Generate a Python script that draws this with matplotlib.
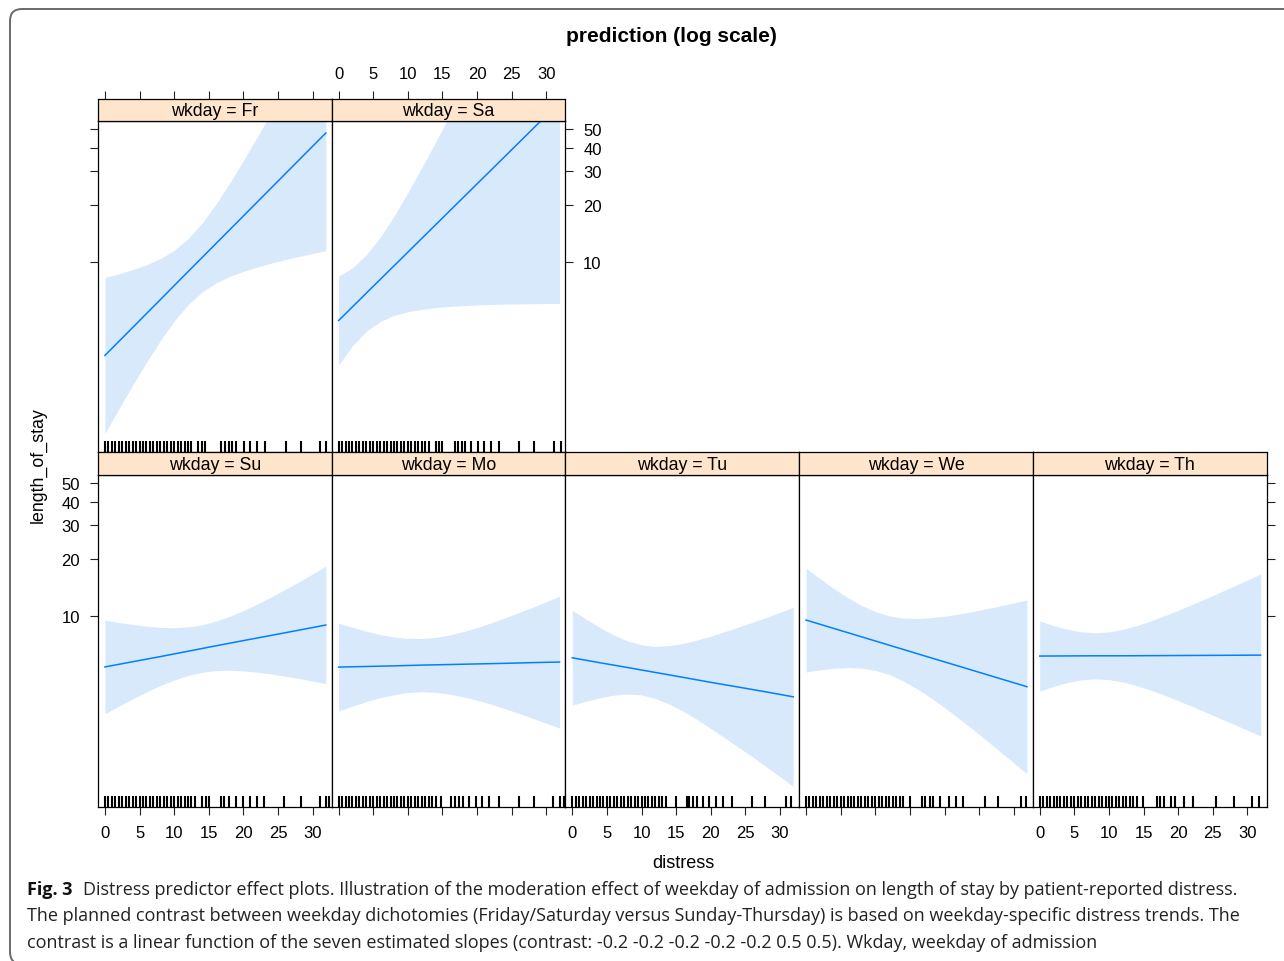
import matplotlib
matplotlib.use('Agg')
import matplotlib.pyplot as plt
from matplotlib.ticker import NullLocator
from matplotlib.patches import FancyBboxPatch
from matplotlib.transforms import IdentityTransform
from matplotlib import font_manager

plt.rcParams['font.family'] = ['Liberation Sans', 'DejaVu Sans']

# ---------------- data ----------------
# fitted line (log-linear) sample points
distress = [0, 4, 8, 12, 16, 20, 24, 28, 31.9]
# confidence band sample points
distress_band = [0, 2, 4, 6, 8, 10, 12, 14, 16, 18, 20, 22, 24, 26, 28, 30, 31.9]

fit_Fr = [3.20, 4.49, 6.30, 8.85, 12.41, 17.42, 24.45, 34.3, 47.7]
up_Fr = [8.24, 8.63, 9.08, 9.62, 10.37, 11.48, 13.20, 15.93, 20.0, 25.90, 34.1, 45.5,
         60.9, 81.9, 110.6, 149.5, 199.5]
lo_Fr = [1.24, 1.67, 2.23, 2.94, 3.83, 4.86, 5.93, 6.90, 7.70, 8.35, 8.89, 9.37, 9.82,
         10.23, 10.64, 11.05, 11.43]

fit_Sa = [4.89, 6.82, 9.50, 13.25, 18.46, 25.73, 35.86, 50.0, 69.1]
up_Sa = [8.39, 9.28, 10.85, 13.43, 17.38, 23.13, 31.3, 42.77, 58.7, 81.1, 112.1, 155.4,
         215.6, 299.8, 417.0, 579.8, 793.0]
lo_Sa = [2.85, 3.60, 4.29, 4.83, 5.20, 5.44, 5.60, 5.72, 5.80, 5.86, 5.91, 5.94, 5.97,
         5.98, 6.00, 6.01, 6.02]

fit_Su = [5.40, 5.75, 6.12, 6.53, 6.97, 7.43, 7.91, 8.43, 8.97]
up_Su = [9.51, 9.25, 9.03, 8.84, 8.71, 8.68, 8.77, 8.99, 9.40, 9.96, 10.69, 11.58, 12.6,
         13.81, 15.1, 16.66, 18.3]
lo_Su = [3.06, 3.36, 3.67, 3.99, 4.31, 4.61, 4.87, 5.06, 5.16, 5.19, 5.15, 5.07, 4.96,
         4.83, 4.70, 4.55, 4.41]

fit_Mo = [5.39, 5.43, 5.47, 5.52, 5.56, 5.60, 5.64, 5.69, 5.73]
up_Mo = [9.18, 8.72, 8.32, 7.99, 7.76, 7.63, 7.62, 7.72, 7.95, 8.28, 8.70, 9.20, 9.78,
         10.42, 11.1, 11.92, 12.7]
lo_Mo = [3.17, 3.36, 3.55, 3.72, 3.86, 3.96, 4.00, 3.97, 3.89, 3.76, 3.61, 3.44, 3.26,
         3.08, 2.90, 2.73, 2.58]

fit_Tu = [6.03, 5.68, 5.36, 5.05, 4.76, 4.48, 4.23, 3.99, 3.76]
up_Tu = [10.72, 9.62, 8.69, 7.94, 7.39, 7.05, 6.92, 6.99, 7.17, 7.48, 7.84, 8.27, 8.75,
         9.26, 9.84, 10.46, 11.10]
lo_Tu = [3.40, 3.57, 3.72, 3.84, 3.89, 3.85, 3.68, 3.44, 3.16, 2.86, 2.56, 2.29, 2.04,
         1.82, 1.61, 1.43, 1.27]

fit_We = [9.53, 8.61, 7.78, 7.03, 6.35, 5.74, 5.19, 4.69, 4.25]
up_We = [17.87, 15.73, 13.95, 12.51, 11.37, 10.55, 10.03, 9.76, 9.70, 9.80, 9.98, 10.23,
         10.55, 10.90, 11.30, 11.72, 12.15]
lo_We = [5.08, 5.21, 5.31, 5.36, 5.32, 5.18, 4.93, 4.57, 4.15, 3.72, 3.30, 2.91, 2.55,
         2.23, 1.94, 1.69, 1.48]

fit_Th = [6.16, 6.17, 6.18, 6.18, 6.19, 6.20, 6.21, 6.22, 6.23]
up_Th = [9.41, 8.91, 8.51, 8.26, 8.16, 8.25, 8.51, 8.90, 9.41, 10.04, 10.72, 11.51, 12.36,
         13.31, 14.35, 15.47, 16.64]
lo_Th = [4.03, 4.27, 4.47, 4.62, 4.67, 4.63, 4.50, 4.30, 4.08, 3.84, 3.59, 3.35, 3.12,
         2.90, 2.70, 2.51, 2.34]

rug_Fr = [0, 0.5, 1, 1.5, 2, 2.5, 3, 3.5, 4, 4.5, 5, 5.5, 6, 6.5, 7, 7.5, 8, 8.5, 9, 9.5,
          10, 10.5, 11, 11.5, 12, 12.5, 13.5, 14, 14.5, 16.8, 17.3, 17.9, 18.4, 19.0, 20.1,
          21.0, 22.0, 23.1, 26.1, 28.3, 31.1, 31.9]
rug_Sa = [0, 0.5, 1, 1.5, 2, 2.5, 3, 3.5, 4, 4.5, 5, 5.5, 6, 6.5, 7, 7.5, 8, 8.5, 9, 9.5,
          10, 10.5, 11, 11.5, 12, 12.5, 13, 14, 14.5, 15, 16.8, 17.2, 17.8, 18.3, 19.1, 20.1,
          21.0, 22.0, 23.1, 26.1, 28.2, 31.1, 32.1]
rug_Su = [0, 0.5, 1, 1.5, 2, 2.5, 3, 3.5, 4, 4.5, 5, 5.5, 6, 6.5, 7, 7.5, 8, 8.5, 9, 9.5,
          10, 10.5, 11, 11.5, 12, 12.5, 13, 14, 14.6, 15.1, 16.8, 17.2, 17.9, 18.9, 20.0,
          21.0, 22.0, 23.0, 25.9, 28.3, 31.0, 31.9, 32.4]
rug_Mo = [0, 0.5, 1, 1.5, 2, 2.5, 3, 3.5, 4, 4.5, 5, 5.5, 6, 6.5, 7, 7.5, 8, 8.5, 9, 9.5,
          10, 10.5, 11, 11.5, 12, 12.5, 13, 13.5, 14, 14.8, 16.3, 16.8, 17.4, 18.0, 18.9,
          19.9, 20.7, 21.7, 23.1, 26.1, 28.2, 30.9, 31.9, 32.5]
rug_Tu = [0, 0.5, 1, 1.5, 2, 2.5, 3, 3.5, 4, 4.5, 5, 5.5, 6, 6.5, 7, 7.5, 8, 8.5, 9, 9.5,
          10, 10.5, 11, 11.5, 12, 12.5, 13, 13.5, 15.0, 16.6, 16.9, 17.4, 18.0, 18.8, 19.8,
          20.7, 21.7, 23.0, 26.0, 27.8, 30.9, 31.6]
rug_We = [0, 0.5, 1, 1.5, 2, 2.5, 3, 3.5, 4, 4.5, 5, 5.5, 6, 6.5, 7, 7.5, 8, 8.5, 9, 9.5,
          10, 10.5, 11, 11.5, 12, 12.5, 13, 13.5, 14, 15.0, 16.7, 17.2, 17.9, 18.4, 19.4,
          20.6, 21.6, 22.7, 25.8, 27.7, 31.1, 31.8]
rug_Th = [0, 0.5, 1, 1.5, 2, 2.5, 3, 3.5, 4, 4.5, 5, 5.5, 6, 6.5, 7, 7.5, 8, 8.5, 9, 9.5,
          10, 10.5, 11, 11.5, 12, 12.5, 13, 13.5, 14, 14.9, 16.9, 17.4, 18.0, 18.9, 19.6,
          20.8, 22.2, 25.5, 28.1, 30.7, 31.7]

x_ticks = [0, 5, 10, 15, 20, 25, 30]
y_ticks = [10, 20, 30, 40, 50]
y_ticklabels = ['10', '20', '30', '40', '50']

title = 'prediction (log scale)'
xlabel = 'distress'
ylabel = 'length_of_stay'
caption_bold = 'Fig. 3'
caption_lines = [
    'Distress predictor effect plots. Illustration of the moderation effect of weekday of admission on length of stay by patient-reported distress.',
    'The planned contrast between weekday dichotomies (Friday/Saturday versus Sunday-Thursday) is based on weekday-specific distress trends. The',
    'contrast is a linear function of the seven estimated slopes (contrast: -0.2 -0.2 -0.2 -0.2 -0.2 0.5 0.5). Wkday, weekday of admission',
]

# ---------------- layout ----------------
W, H, DPI = 1284, 962, 100
fig = plt.figure(figsize=(W / DPI, H / DPI), dpi=DPI)
fig.patch.set_facecolor('white')

col_edges = [98, 331.7, 565.4, 799.1, 1032.8, 1266.5]
rows = {0: dict(strip=(100, 122), panel=(122, 453)),
        1: dict(strip=(453, 476), panel=(476, 808))}

LINE_COL = '#0080ff'
BAND_COL = '#d8e9fb'
STRIP_COL = '#ffe5cc'
XLIM = (-1.0, 32.75)
YLIM = (0.99, 55.2)
TICK_FS = 12
TP = dict(length=5.8, width=0.8, pad=7, labelsize=TICK_FS, color='#222222')


def add_axes_px(x0, y0, x1, y1):
    return fig.add_axes([x0 / W, 1 - y1 / H, (x1 - x0) / W, (y1 - y0) / H])


panels = [
    ('Fr', 0, 0, fit_Fr, up_Fr, lo_Fr, rug_Fr),
    ('Sa', 0, 1, fit_Sa, up_Sa, lo_Sa, rug_Sa),
    ('Su', 1, 0, fit_Su, up_Su, lo_Su, rug_Su),
    ('Mo', 1, 1, fit_Mo, up_Mo, lo_Mo, rug_Mo),
    ('Tu', 1, 2, fit_Tu, up_Tu, lo_Tu, rug_Tu),
    ('We', 1, 3, fit_We, up_We, lo_We, rug_We),
    ('Th', 1, 4, fit_Th, up_Th, lo_Th, rug_Th),
]

for name, r, c, fit, up, lo, rug in panels:
    x0, x1 = col_edges[c], col_edges[c + 1]
    pt, pb = rows[r]['panel']
    st, sb = rows[r]['strip']

    ax = add_axes_px(x0, pt, x1, pb)
    ax.set_yscale('log')
    ax.fill_between(distress_band, lo, up, color=BAND_COL, lw=0, zorder=1)
    ax.plot(distress, fit, color=LINE_COL, lw=1.1, zorder=3)
    ax.vlines(rug, 0, 0.033, transform=ax.get_xaxis_transform(), color='black',
              lw=1.5, zorder=2)
    ax.set_xlim(*XLIM)
    ax.set_ylim(*YLIM)
    ax.yaxis.set_minor_locator(NullLocator())
    ax.set_yticks(y_ticks)
    ax.set_yticklabels(y_ticklabels)
    ax.set_xticks(x_ticks)
    ax.set_xticklabels([str(v) for v in x_ticks])
    for sp in ax.spines.values():
        sp.set_linewidth(0.9)
        sp.set_color('black')
    ax.tick_params(which='both', left=False, right=False, top=False, bottom=False,
                   labelleft=False, labelright=False, labeltop=False, labelbottom=False)
    ax.tick_params(**TP)

    if name == 'Fr':
        ax.tick_params(left=True)
    if name == 'Sa':
        ax.tick_params(right=True, labelright=True)
    if name == 'Su':
        ax.tick_params(left=True, labelleft=True, bottom=True, labelbottom=True)
    if name in ('Mo', 'We'):
        ax.tick_params(bottom=True)
    if name == 'Tu':
        ax.tick_params(bottom=True, labelbottom=True)
    if name == 'Th':
        ax.tick_params(bottom=True, labelbottom=True, right=True)

    sax = add_axes_px(x0, st, x1, sb)
    sax.set_facecolor(STRIP_COL)
    sax.set_xlim(*XLIM)
    sax.set_ylim(0, 1)
    sax.set_yticks([])
    sax.set_xticks(x_ticks)
    sax.set_xticklabels([str(v) for v in x_ticks])
    for sp in sax.spines.values():
        sp.set_linewidth(0.9)
        sp.set_color('black')
    sax.tick_params(which='both', left=False, right=False, top=False, bottom=False,
                    labelleft=False, labelright=False, labeltop=False, labelbottom=False)
    sax.tick_params(**TP)
    if name == 'Fr':
        sax.tick_params(top=True)
    if name == 'Sa':
        sax.tick_params(top=True, labeltop=True)
    sax.text(0.5, 0.46, 'wkday = ' + name, transform=sax.transAxes, ha='center',
             va='center', fontsize=12.8, color='black')

# titles / labels
fig.text(671 / W, 1 - 36 / H, title, ha='center', va='center', fontsize=15,
         fontweight='bold')
fig.text(683 / W, 1 - 864 / H, xlabel, ha='center', va='center', fontsize=13)
fig.text(38 / W, 1 - 465 / H, ylabel, ha='center', va='center', fontsize=12.8,
         rotation=90)

# rounded frame
frame = FancyBboxPatch((10, -3), 1300, H - 10 + 3, boxstyle='round,pad=0,rounding_size=12',
                       transform=IdentityTransform(), fill=False, ec='#6a6a6a', lw=1.4)
fig.add_artist(frame)

# caption
names = {f.name for f in font_manager.fontManager.ttflist}
cap_family = 'Liberation Sans Narrow' if 'Liberation Sans Narrow' in names else 'Open Sans'

renderer = fig.canvas.get_renderer()
fs0 = 14.0
cap_y = [890, 916.5, 943]
tb = fig.text(27 / W, 1 - cap_y[0] / H, caption_bold, ha='left', va='center',
              fontsize=fs0, fontweight='bold', family=cap_family, color='#111111')
t1 = fig.text(0, 1 - cap_y[0] / H, caption_lines[0], ha='left', va='center',
              fontsize=fs0, family=cap_family, color='#222222')
bw = tb.get_window_extent(renderer).width
gap = 0.6 * fs0 * DPI / 72
tw = t1.get_window_extent(renderer).width
fs = fs0 * (1250 - 27) / (bw + gap + tw)
tb.set_fontsize(fs)
t1.set_fontsize(fs)
bw = tb.get_window_extent(renderer).width
gap = 0.6 * fs * DPI / 72
t1.set_x((27 + bw + gap) / W)
for line, yy in zip(caption_lines[1:], cap_y[1:]):
    fig.text(27 / W, 1 - yy / H, line, ha='left', va='center', fontsize=fs,
             family=cap_family, color='#222222')

fig.savefig('out.png', dpi=DPI, facecolor='white')
